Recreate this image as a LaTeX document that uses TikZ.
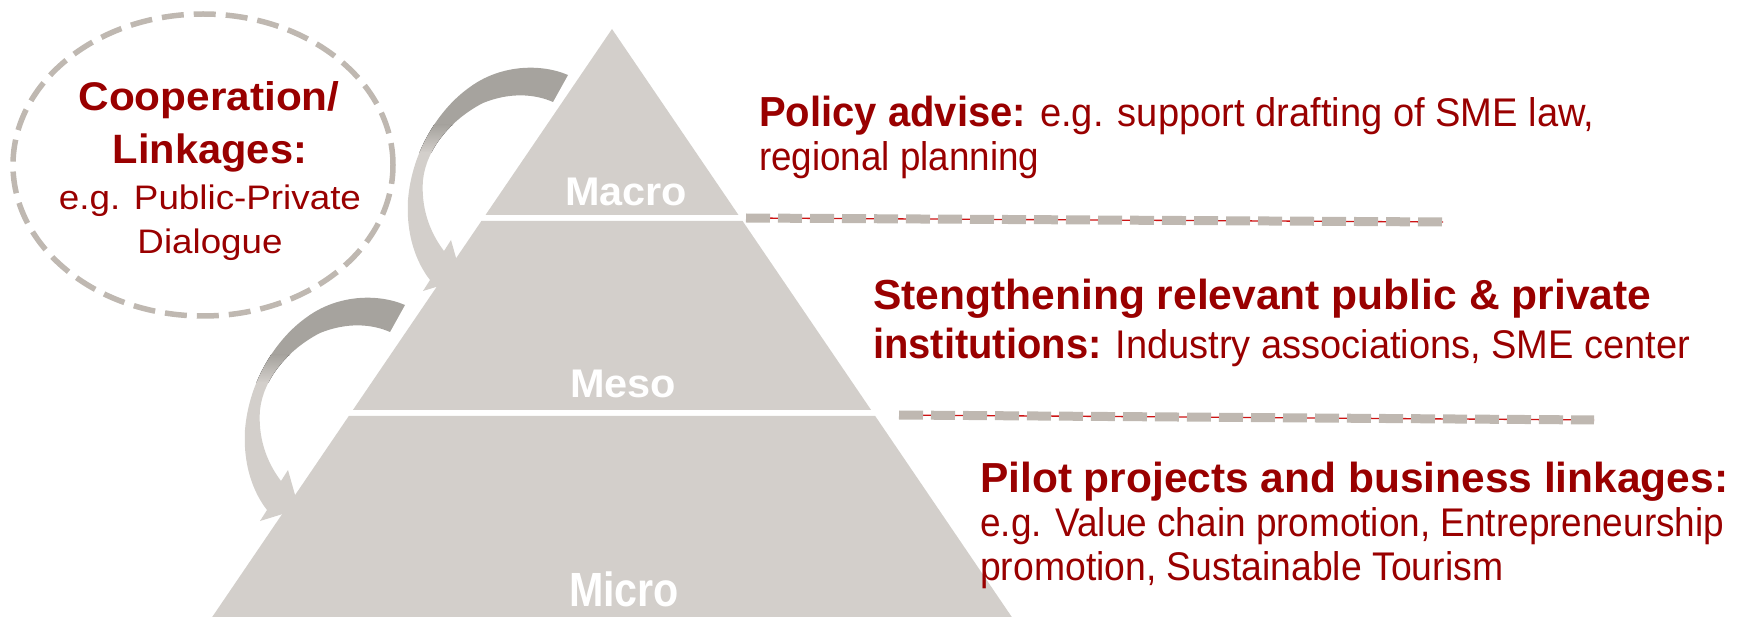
\documentclass[tikz,border=0pt]{standalone}
\usepackage{fontspec}
\setmainfont{Liberation Sans}
\usepackage{graphicx}
\usetikzlibrary{shapes.geometric}
\definecolor{pyr}{RGB}{211,207,203}
\definecolor{arrdark}{RGB}{166,163,158}
\definecolor{dashgray}{RGB}{191,184,177}
\definecolor{txtred}{RGB}{153,0,0}
\definecolor{linered}{RGB}{204,20,20}
\newcommand\fitw[2]{\resizebox{#1pt}{\height}{#2}}
\newcommand\bendarrow{%
  \begin{scope}
    \clip (568,75) .. controls (540,63) and (500,65) .. (470,87)
      .. controls (440,108) and (412,150) .. (408,200)
      .. controls (406,235) and (416,262) .. (430,280)
      -- (423,291) -- (462,279) -- (451,240) -- (444,251)
      .. controls (428,230) and (421,205) .. (423,180)
      .. controls (426,150) and (450,120) .. (483,103)
      .. controls (510,92) and (535,94) .. (553,102) -- cycle;
    \fill[arrdark] (370,40) rectangle (620,126);
    \fill[top color=arrdark,bottom color=pyr] (370,125) rectangle (620,153);
    \fill[pyr] (370,152) rectangle (620,320);
  \end{scope}}
\tikzset{
  lvl/.style={anchor=base,text=white,inner sep=0pt,font=\bfseries\fontsize{40}{40}\selectfont},
  rtext/.style={anchor=base west,text=txtred,inner sep=0pt,font=\fontsize{40}{40}\selectfont},
  ctext/.style={anchor=base,text=txtred,inner sep=0pt},
  sep/.style={dashgray,line width=9pt,dash pattern=on 24pt off 8pt},
  sepline/.style={linered,line width=1.3pt}
}
\begin{document}
\begin{tikzpicture}[x=1pt,y=-1pt]
\useasboundingbox (0,0) rectangle (1746,617);
% curved arrows
\begin{scope}\bendarrow\end{scope}
\begin{scope}[shift={(-163,230)}]\bendarrow\end{scope}
% pyramid
\fill[pyr] (612,29) -- (738.5,215) -- (485.5,215) -- cycle;
\fill[pyr] (481.4,221) -- (742.6,221) -- (871.1,410) -- (352.9,410) -- cycle;
\fill[pyr] (348.8,416) -- (875.2,416) -- (1011.8,617) -- (212.2,617) -- cycle;
\node[lvl] (macro) at (626,206) {\fitw{122}{Macro}};
\node[lvl] (meso) at (623,398) {\fitw{106}{Meso}};
\node[lvl] (micro) at (624,606) {\fitw{110}{\fontsize{48}{48}\selectfont Micro}};
% separators
\coordinate (d1a) at (746,218);
\coordinate (d1b) at (1443,222);
\coordinate (d2a) at (899,415);
\coordinate (d2b) at (1594,420);
\draw[sepline] (d1a) -- (d1b);
\draw[sep] (d1a) -- (d1b);
\draw[sepline] (d2a) -- (d2b);
\draw[sep] (d2a) -- (d2b);
% cooperation ellipse
\node[ellipse,draw=dashgray,line width=5.5pt,dash pattern=on 22pt off 10pt,
      minimum width=380pt,minimum height=302pt,inner sep=0pt] (coop) at (203,165) {};
\node[ctext,font=\bfseries\fontsize{40}{40}\selectfont] (c1) at (209,111) {\fitw{261}{Cooperation/}};
\node[ctext,font=\bfseries\fontsize{41}{41}\selectfont] (c2) at (210,164) {\fitw{194}{Linkages:}};
\node[ctext,font=\fontsize{34}{34}\selectfont] (c3) at (210,210) {\fitw{302}{e.g. Public-Private}};
\node[ctext,font=\fontsize{34}{34}\selectfont] (c4) at (210,254) {\fitw{145}{Dialogue}};
% right texts
\node[rtext] (p1) at (759,127) {\fitw{835}{{\bfseries\fontsize{42}{42}\selectfont Policy advise:} e.g. support drafting of SME law,}};
\node[rtext] (p2) at (759,171) {\fitw{280}{regional planning}};
\node[rtext] (s1) at (873,310) {\fitw{778}{\bfseries\fontsize{42}{42}\selectfont Stengthening relevant public \& private}};
\node[rtext] (s2) at (873,359) {\fitw{817}{{\bfseries\fontsize{42}{42}\selectfont institutions:} Industry associations, SME center}};
\node[rtext] (m1) at (980,492) {\fitw{748}{\bfseries\fontsize{42}{42}\selectfont Pilot projects and business linkages:}};
\node[rtext] (m2) at (980,536) {\fitw{744}{e.g. Value chain promotion, Entrepreneurship}};
\node[rtext] (m3) at (980,580) {\fitw{523}{promotion, Sustainable Tourism}};
\end{tikzpicture}
\end{document}
